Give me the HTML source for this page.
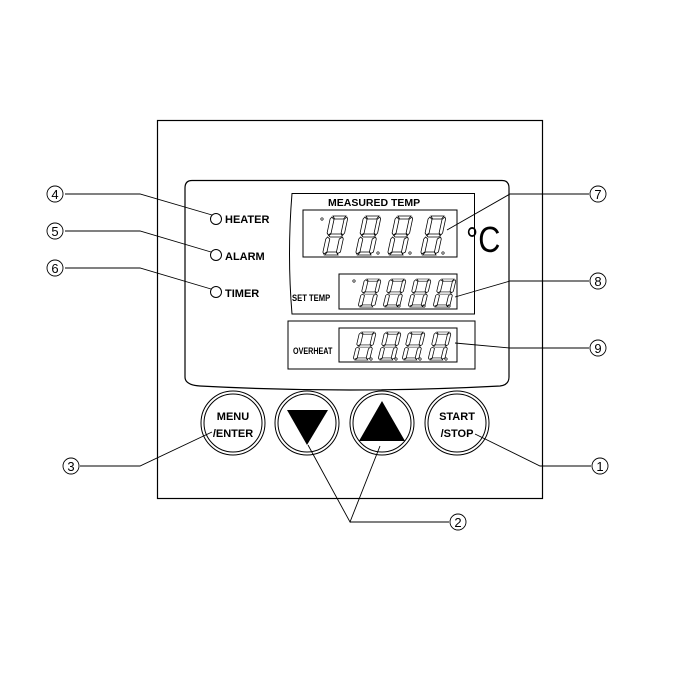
<!DOCTYPE html>
<html><head><meta charset="utf-8"><style>
html,body{margin:0;padding:0;background:#fff}
svg{display:block}
text{font-family:"Liberation Sans",Arial,sans-serif}
</style></head><body>
<svg width="700" height="700" viewBox="0 0 700 700">
<defs>
<g id="dg" fill="none" stroke="#000" stroke-width="0.8">
<polygon points="4,0 17,0 15,3 6,3"/>
<polygon points="3,1 5.5,3.5 4.5,17 2,19 0.5,17 1.5,3"/>
<polygon points="18,1 19,3 18,17 16.5,19 14.5,17 15.5,3.5"/>
<polygon points="2.5,19.5 4.5,18 14.5,18 16,19.5 14.5,21 4,21"/>
<polygon points="1.5,21 4,23 3,36 0,38 -1,36 0,23"/>
<polygon points="16.5,21 17.5,23 16.5,36 14,37.5 12.5,36 13.5,23"/>
<polygon points="1,39 3.5,36 12.5,36 14.5,39"/>
</g>
</defs>
<g fill="none" stroke="#000">
<rect x="157.5" y="120.5" width="385" height="378" stroke-width="1.2"/>
<path d="M192,180.5 H502 Q509,180.5 509,188 V377 Q509,385 500,386 Q350,394 200,386 Q185,385 185,377 V188 Q185,180.5 192,180.5 Z" stroke-width="1.2"/>
<path d="M292,193.5 H474.5 V314 H292 Q287,254 292,193.5 Z"/>
<rect x="303" y="210" width="154" height="47"/>
<rect x="339" y="274" width="118" height="35"/>
<rect x="288" y="321" width="187" height="48"/>
<rect x="339" y="328" width="118" height="34"/>
<circle cx="216" cy="219" r="5.5"/><circle cx="216" cy="255" r="5.5"/><circle cx="216" cy="292" r="5.5"/>
<circle cx="233" cy="423" r="32"/><circle cx="233" cy="423" r="29"/>
<circle cx="307" cy="423" r="32"/><circle cx="307" cy="423" r="29"/>
<circle cx="382" cy="423" r="32"/><circle cx="382" cy="423" r="29"/>
<circle cx="457" cy="423" r="32"/><circle cx="457" cy="423" r="29"/>
</g>
<polygon points="287,410 328,410 307,445" fill="#000"/>
<polygon points="382,401 405,441 359,441" fill="#000"/>
<g transform="translate(329,216) skewX(-8)"><use href="#dg"/></g>
<g transform="translate(362,216) skewX(-8)"><use href="#dg"/></g>
<g transform="translate(394,216) skewX(-8)"><use href="#dg"/></g>
<g transform="translate(427,216) skewX(-8)"><use href="#dg"/></g>
<g transform="translate(363,279) skewX(-8) scale(0.95,0.72)"><use href="#dg"/></g>
<g transform="translate(388,279) skewX(-8) scale(0.95,0.72)"><use href="#dg"/></g>
<g transform="translate(413,279) skewX(-8) scale(0.95,0.72)"><use href="#dg"/></g>
<g transform="translate(438,279) skewX(-8) scale(0.95,0.72)"><use href="#dg"/></g>
<g transform="translate(358,332) skewX(-8) scale(0.95,0.72)"><use href="#dg"/></g>
<g transform="translate(383,332) skewX(-8) scale(0.95,0.72)"><use href="#dg"/></g>
<g transform="translate(407,332) skewX(-8) scale(0.95,0.72)"><use href="#dg"/></g>
<g transform="translate(433,332) skewX(-8) scale(0.95,0.72)"><use href="#dg"/></g>
<g fill="none" stroke="#000" stroke-width="0.7">
<circle cx="322" cy="219" r="1.2"/><circle cx="378" cy="253" r="1.2"/><circle cx="410" cy="253" r="1.2"/><circle cx="443" cy="253" r="1.2"/>
<circle cx="354" cy="281" r="1.2"/><circle cx="399" cy="306" r="1.2"/><circle cx="424" cy="306" r="1.2"/><circle cx="449" cy="306" r="1.2"/>
<circle cx="371" cy="359" r="1.2"/><circle cx="396" cy="359" r="1.2"/><circle cx="420" cy="359" r="1.2"/><circle cx="446" cy="359" r="1.2"/>
</g>
<g font-weight="bold" font-size="11">
<text x="225" y="223">HEATER</text>
<text x="225" y="260">ALARM</text>
<text x="225" y="297">TIMER</text>
<text x="328" y="206" font-size="10.5">MEASURED TEMP</text>
<text x="292" y="301" font-size="9" transform="translate(292,301) scale(0.85,1) translate(-292,-301)">SET TEMP</text>
<text x="293" y="354" font-size="9" transform="translate(293,354) scale(0.8,1) translate(-293,-354)">OVERHEAT</text>
<text x="233" y="420" text-anchor="middle" font-size="11">MENU</text>
<text x="233" y="437" text-anchor="middle" font-size="11">/ENTER</text>
<text x="457" y="420" text-anchor="middle" font-size="11">START</text>
<text x="457" y="437" text-anchor="middle" font-size="11">/STOP</text>
</g>
<text x="466" y="252" font-size="36" transform="translate(466,252) scale(0.85,1) translate(-466,-252)">°C</text>
<g fill="none" stroke="#000" stroke-width="0.9">
<polyline points="65,194 140,194 212,215"/>
<polyline points="65,231 140,231 211,252"/>
<polyline points="65,268 140,268 211,289"/>
<polyline points="589,194 510,194 447,230"/>
<polyline points="589,281 510,281 455,297"/>
<polyline points="589,348 510,348 455,343"/>
<polyline points="80,466 140,466 212,432"/>
<polyline points="591,466 540,466 475,434"/>
<polyline points="308,445 350,522 380,446"/>
<line x1="350" y1="522" x2="449" y2="522"/>
</g>
<g fill="none" stroke="#000" stroke-width="0.9">
<circle cx="55" cy="194" r="8"/><circle cx="55" cy="231" r="8"/><circle cx="55" cy="268" r="8"/>
<circle cx="598" cy="194" r="8"/><circle cx="598" cy="281" r="8"/><circle cx="598" cy="348" r="8"/>
<circle cx="71" cy="466" r="8"/><circle cx="600" cy="466" r="8"/><circle cx="458" cy="522" r="8"/>
</g>
<g font-size="13" text-anchor="middle">
<text x="55" y="199">4</text><text x="55" y="236">5</text><text x="55" y="273">6</text>
<text x="598" y="199">7</text><text x="598" y="286">8</text><text x="598" y="353">9</text>
<text x="71" y="471">3</text><text x="600" y="471">1</text><text x="458" y="527">2</text>
</g>
</svg>
</body></html>
